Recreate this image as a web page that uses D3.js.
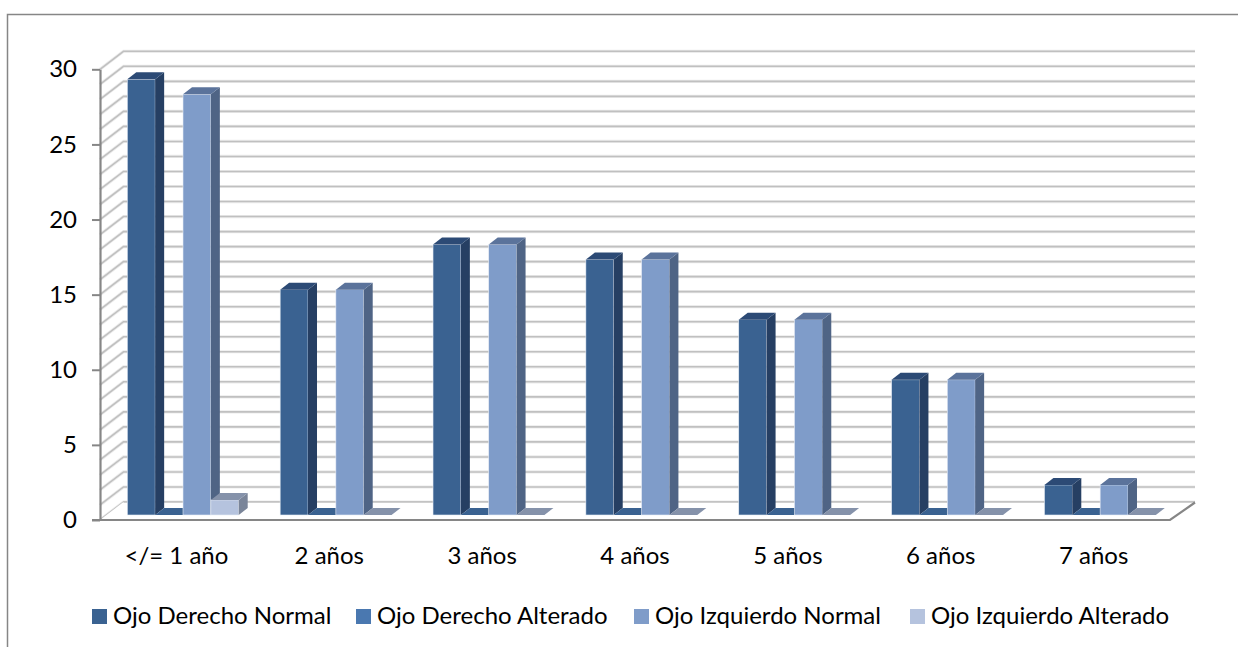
<!DOCTYPE html>
<html>
<head>
<meta charset="utf-8">
<script src="https://cdn.jsdelivr.net/npm/d3@7"></script>
<style>
  html, body { margin: 0; padding: 0; background: #fff; }
  svg { display: block; }
  text { font-family: Lato, "Open Sans", sans-serif; fill: #000; }
</style>
</head>
<body>
<svg id="chart" width="1238" height="647"></svg>
<script>
const categories = ["</= 1 año", "2 años", "3 años", "4 años", "5 años", "6 años", "7 años"];
const seriesNames = ["Ojo Derecho Normal", "Ojo Derecho Alterado", "Ojo Izquierdo Normal", "Ojo Izquierdo Alterado"];
const derechoNormal = [29, 15, 18, 17, 13, 9, 2];
const derechoAlterado = [0, 0, 0, 0, 0, 0, 0];
const izquierdoNormal = [28, 15, 18, 17, 13, 9, 2];
const izquierdoAlterado = [1, 0, 0, 0, 0, 0, 0];
const seriesValues = [derechoNormal, derechoAlterado, izquierdoNormal, izquierdoAlterado];
const yTicks = [0, 5, 10, 15, 20, 25, 30];
const gridValues = d3.range(0, 31);

// front, side, top colour of each series
const faceColors = [
    { front: "#3a6291", side: "#263f63", top: "#2c4a75", legend: "#3a6291" },
    { front: "#4a7ab2", side: "#2f4f75", top: "#3a6291", legend: "#4a78b0" },
    { front: "#7f9cc9", side: "#4f6485", top: "#5b739b", legend: "#7f9cc9" },
    { front: "#b5c3de", side: "#7a8599", top: "#8592aa", legend: "#b5c3de" }
];

const svg = d3.select("#chart");

// frame of the chart area (only top and left show in the picture)
svg.append("path").attr("d", "M1238,14.5H7.5V647")
    .attr("fill", "none").attr("stroke", "#868686").attr("stroke-width", 1.5);

// scales
const x0 = d3.scaleBand().domain(categories).range([100, 1170]);
const x1 = d3.scaleBand().domain(d3.range(seriesNames.length)).range([27.3, 138.7]);
const y = d3.scaleLinear().domain([0, 30]).range([520, 69.3]);

// 3D projection offsets
const wallDx = 23.5, wallDy = -18;
const barLift = -5;
const barDx = 9, barDy = -7;

// walls
const grid = svg.append("g").attr("fill", "none");
grid.selectAll("path.halo").data(gridValues).join("path")
    .attr("class", "halo")
    .attr("d", d => `M100,${y(d)}L${100 + wallDx},${y(d) + wallDy}H1195`)
    .attr("stroke", "#ececec").attr("stroke-width", 3.2);
grid.selectAll("path.line").data(gridValues).join("path")
    .attr("class", "line")
    .attr("d", d => `M100,${y(d)}L${100 + wallDx},${y(d) + wallDy}H1195`)
    .attr("stroke", "#c0c0c0").attr("stroke-width", 1.6);

// floor, white in front of the back line
svg.append("path")
    .attr("d", `M100,${y(0)}L${100 + wallDx},${y(0) + wallDy}H1195L1170,${y(0)}Z`)
    .attr("fill", "#fff");
svg.append("path")
    .attr("d", `M${100 + wallDx},${y(0) + wallDy}H1195`)
    .attr("stroke", "#c0c0c0").attr("stroke-width", 1.6);

// bars
categories.forEach((cat, c) => {
    const g = svg.append("g").attr("transform", `translate(${x0(cat)},0)`);
    seriesValues.forEach((vals, s) => {
        const v = vals[c];
        const bx = x1(s), bw = x1.bandwidth();
        const top = y(v) + barLift, base = y(0) + barLift;
        const col = faceColors[s];
        // a zero value still draws the bar's flat top
        if (v > 0) {
            g.append("rect").attr("x", bx).attr("y", top)
                .attr("width", bw).attr("height", base - top)
                .attr("fill", col.front)
                .attr("stroke", "#e8edf5").attr("stroke-width", 0.6);
            g.append("path")
                .attr("d", `M${bx + bw},${top}l${barDx},${barDy}V${base + barDy}L${bx + bw},${base}Z`)
                .attr("fill", col.side);
        }
        g.append("path")
            .attr("d", `M${bx},${top}l${barDx},${barDy}h${bw}l${-barDx},${-barDy}Z`)
            .attr("fill", col.top);
    });
});

// axes
const yAxis = svg.append("g").attr("transform", "translate(100,0)")
    .call(d3.axisLeft(y).tickValues(yTicks).tickSize(8).tickPadding(15).tickSizeOuter(0));
yAxis.select(".domain").attr("stroke", "#868686").attr("stroke-width", 2.2);
yAxis.selectAll(".tick line").attr("stroke", "#868686").attr("stroke-width", 2);
yAxis.selectAll("text").attr("font-size", 24).style("font-family", "Lato");

svg.append("path")
    .attr("d", `M92,${y(0)}H1170L1195,${y(0) + wallDy + 0.5}`)
    .attr("fill", "none").attr("stroke", "#868686").attr("stroke-width", 2.2);

const xAxis = svg.append("g").attr("transform", `translate(0,${y(0)})`)
    .call(d3.axisBottom(x0).tickSize(0).tickPadding(27));
xAxis.select(".domain").remove();
xAxis.selectAll("text").attr("font-size", 24).style("font-family", "Lato");

// legend
const legendX = [92, 356, 634, 910];
const legend = svg.append("g");
seriesNames.forEach((name, i) => {
    legend.append("rect").attr("x", legendX[i]).attr("y", 609)
        .attr("width", 15).attr("height", 15).attr("fill", faceColors[i].legend);
    legend.append("text").attr("x", legendX[i] + 21).attr("y", 624)
        .attr("font-size", 24).text(name);
});
</script>
</body>
</html>
